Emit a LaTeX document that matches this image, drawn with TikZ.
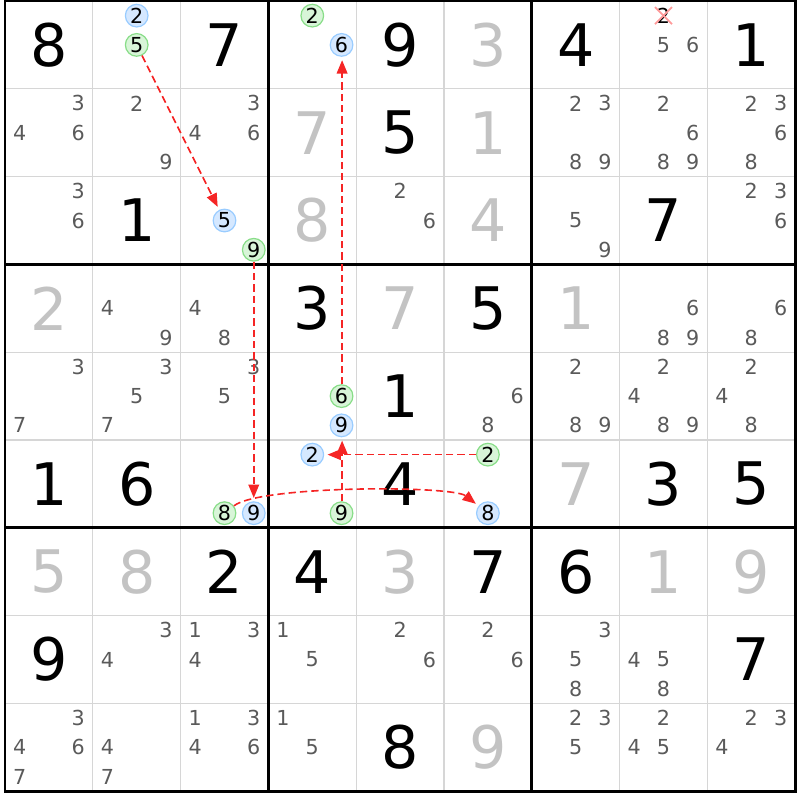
\documentclass[tikz,border=0pt]{standalone}
\usepackage{fontspec}
\setmainfont{DejaVu Sans}
\usepackage{xcolor}
\usepackage{tikz}
\usetikzlibrary{arrows.meta,shapes.misc}
\definecolor{solvedgray}{HTML}{C3C3C3}
\definecolor{candgray}{HTML}{5A5A5A}
\definecolor{gridgray}{HTML}{D6D6D6}
\definecolor{linkred}{HTML}{F52525}
\definecolor{bluefill}{HTML}{D5E8FF}
\definecolor{blueline}{HTML}{99CCFF}
\definecolor{greenfill}{HTML}{D8F5D8}
\definecolor{greenline}{HTML}{88DD88}
\definecolor{crossred}{HTML}{FF9A9A}
\tikzset{
  given/.style={font=\fontsize{44}{44}\selectfont,text=black,inner sep=0pt},
  solved/.style={given,text=solvedgray},
  cand/.style={font=\fontsize{15.5}{15.5}\selectfont,text=candgray,inner sep=0pt},
  bluecand/.style={cand,text=black,shape=circle,minimum size=17pt,fill=bluefill,draw=blueline,line width=0.9pt},
  greencand/.style={bluecand,fill=greenfill,draw=greenline},
  elimcand/.style={cand,text=black,cross out,minimum size=11.5pt,draw=crossred,line width=1.3pt},
  link/.style={draw=linkred,line width=1.2pt,dash pattern=on 5.5pt off 3pt,
    -{Triangle[length=10pt,width=8pt]},shorten >=2.5pt},
  thin line/.style={draw=gridgray,line width=1pt},
  box line/.style={draw=black,line width=2pt}
}

\begin{document}
\begin{tikzpicture}[x=65.85pt,y=-65.85pt]
  \useasboundingbox (-0.05695,-0.01139) rectangle (9.0547,9.1002);
  % grid
  \foreach \i in {1,2,4,5,7,8} {
    \draw[thin line] (\i,0) -- (\i,9);
    \draw[thin line] (0,\i) -- (9,\i);
  }
  \foreach \i in {3,6} {
    \draw[box line] (\i,0) -- (\i,9);
    \draw[box line] (0,\i) -- (9,\i);
  }
  \draw[box line] (0,0) rectangle (9,9);
  % givens and solved cells
  \foreach \row/\col/\dig in {1/1/8,1/3/7,1/5/9,1/7/4,1/9/1,2/5/5,3/2/1,3/8/7,
      4/4/3,4/6/5,5/5/1,6/1/1,6/2/6,6/5/4,6/8/3,6/9/5,7/3/2,7/4/4,7/6/7,7/7/6,
      8/1/9,8/9/7,9/5/8}
    \node[given] (g\row\col) at ({\col-0.5},{\row-0.5}) {\dig};
  \foreach \row/\col/\dig in {1/6/3,2/4/7,2/6/1,3/4/8,3/6/4,4/1/2,4/5/7,4/7/1,
      6/7/7,7/1/5,7/2/8,7/5/3,7/8/1,7/9/9,9/6/9}
    \node[solved] (g\row\col) at ({\col-0.5},{\row-0.5}) {\dig};
  % candidates
  \foreach \row/\col/\digs in {1/8/{5,6},2/1/{3,4,6},2/2/{2,9},2/3/{3,4,6},
      2/7/{2,3,8,9},2/8/{2,6,8,9},2/9/{2,3,6,8},3/1/{3,6},3/5/{2,6},3/7/{5,9},
      3/9/{2,3,6},4/2/{4,9},4/3/{4,8},4/8/{6,8,9},4/9/{6,8},5/1/{3,7},
      5/2/{3,5,7},5/3/{3,5},5/6/{6,8},5/7/{2,8,9},5/8/{2,4,8,9},5/9/{2,4,8},
      8/2/{3,4},8/3/{1,3,4},8/4/{1,5},8/5/{2,6},8/6/{2,6},8/7/{3,5,8},
      8/8/{4,5,8},9/1/{3,4,6,7},9/2/{4,7},9/3/{1,3,4,6},9/4/{1,5},
      9/7/{2,3,5},9/8/{2,4,5},9/9/{2,3,4}}
    \foreach \dig in \digs {
      \pgfmathsetmacro\cx{\col-1+(2*mod(\dig-1,3)+1)/6}
      \pgfmathsetmacro\cy{\row-1+(2*floor((\dig-1)/3)+1)/6}
      \node[cand] (c\row\col\dig) at (\cx,\cy) {\dig};
    }
  % marked candidates
  \foreach \row/\col/\dig in {1/2/2,1/4/6,3/3/5,5/4/9,6/3/9,6/4/2,6/6/8} {
    \pgfmathsetmacro\cx{\col-1+(2*mod(\dig-1,3)+1)/6}
    \pgfmathsetmacro\cy{\row-1+(2*floor((\dig-1)/3)+1)/6}
    \node[bluecand] (k\row\col\dig) at (\cx,\cy) {\dig};
  }
  \foreach \row/\col/\dig in {1/2/5,1/4/2,3/3/9,5/4/6,6/3/8,6/4/9,6/6/2} {
    \pgfmathsetmacro\cx{\col-1+(2*mod(\dig-1,3)+1)/6}
    \pgfmathsetmacro\cy{\row-1+(2*floor((\dig-1)/3)+1)/6}
    \node[greencand] (k\row\col\dig) at (\cx,\cy) {\dig};
  }
  \node[elimcand] (x182) at ({7+3/6},{1/6}) {2};
  % chain
  \draw[link] (k125) -- (k335);
  \draw[link] (k339) -- (k639);
  \draw[link] (k638) to[out=38,in=142,looseness=0.35] (k668);
  \draw[link] (k662) -- (k642);
  \draw[link] ([xshift=0.4pt]k649.north) -- ([xshift=0.4pt]k549.south);
  \draw[link] ([xshift=0.4pt]k546.north) -- ([xshift=0.4pt]k146.south);
\end{tikzpicture}
\end{document}
